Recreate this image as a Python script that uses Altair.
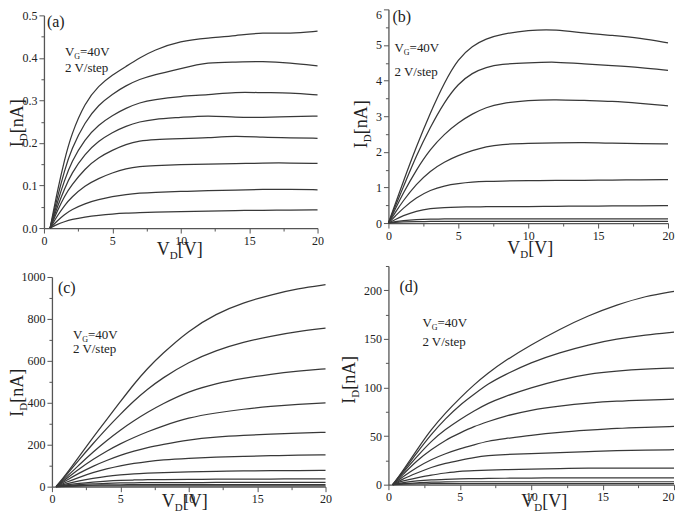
import altair as alt
import pandas as pd

FONT = "Liberation Serif"
LINE = "#383838"
AXC = "#555555"
TXT = "#222222"

# ---------------- data ----------------
# Panel (a): I_D in nA
va = [0.45, 1, 1.5, 2, 3, 4, 5, 6, 7, 8, 10, 12, 14, 16, 18, 20]
ia = [
    [0, 0.09, 0.16, 0.22, 0.295, 0.335, 0.36, 0.38, 0.40, 0.418, 0.44, 0.447, 0.452, 0.46, 0.457, 0.463],
    [0, 0.075, 0.135, 0.185, 0.25, 0.29, 0.315, 0.335, 0.35, 0.36, 0.375, 0.39, 0.39, 0.392, 0.388, 0.381],
    [0, 0.063, 0.112, 0.155, 0.21, 0.243, 0.265, 0.282, 0.295, 0.302, 0.31, 0.313, 0.32, 0.318, 0.318, 0.313],
    [0, 0.052, 0.092, 0.128, 0.175, 0.205, 0.225, 0.24, 0.25, 0.256, 0.26, 0.265, 0.26, 0.26, 0.262, 0.263],
    [0, 0.042, 0.075, 0.10, 0.14, 0.166, 0.183, 0.197, 0.205, 0.208, 0.21, 0.212, 0.217, 0.213, 0.212, 0.211],
    [0, 0.03, 0.053, 0.072, 0.10, 0.117, 0.13, 0.14, 0.145, 0.147, 0.149, 0.15, 0.151, 0.153, 0.153, 0.152],
    [0, 0.018, 0.032, 0.043, 0.058, 0.067, 0.074, 0.079, 0.082, 0.084, 0.086, 0.088, 0.089, 0.091, 0.091, 0.09],
    [0, 0.009, 0.015, 0.02, 0.026, 0.03, 0.033, 0.035, 0.036, 0.037, 0.039, 0.04, 0.041, 0.042, 0.042, 0.043],
]
# Panel (b)
vb = [0, 0.5, 1, 2, 3, 4, 5, 6, 7, 8, 10, 12, 14, 16, 18, 20]
ib = [
    [0, 0.55, 1.1, 2.15, 3.1, 3.95, 4.62, 4.98, 5.18, 5.3, 5.42, 5.44, 5.33, 5.27, 5.2, 5.06],
    [0, 0.48, 0.95, 1.9, 2.7, 3.4, 3.92, 4.22, 4.38, 4.46, 4.5, 4.53, 4.47, 4.42, 4.37, 4.29],
    [0, 0.4, 0.8, 1.5, 2.08, 2.5, 2.82, 3.07, 3.25, 3.36, 3.45, 3.47, 3.44, 3.42, 3.36, 3.29],
    [0, 0.3, 0.6, 1.1, 1.47, 1.72, 1.9, 2.04, 2.15, 2.21, 2.24, 2.25, 2.26, 2.24, 2.23, 2.22],
    [0, 0.2, 0.4, 0.72, 0.93, 1.05, 1.11, 1.15, 1.17, 1.18, 1.19, 1.2, 1.2, 1.21, 1.21, 1.22],
    [0, 0.1, 0.2, 0.34, 0.41, 0.44, 0.45, 0.455, 0.46, 0.46, 0.46, 0.47, 0.475, 0.48, 0.485, 0.49],
    [0, 0.04, 0.07, 0.1, 0.11, 0.115, 0.12, 0.12, 0.12, 0.12, 0.12, 0.12, 0.12, 0.12, 0.12, 0.12],
    [0, 0.02, 0.03, 0.04, 0.045, 0.05, 0.05, 0.05, 0.05, 0.05, 0.05, 0.05, 0.05, 0.05, 0.05, 0.05],
]
# Panel (c)
vc = [0.3, 1, 2, 3, 4, 5, 6, 7, 8, 10, 12, 14, 16, 18, 20]
ic = [
    [0, 55, 145, 235, 320, 405, 490, 565, 630, 745, 825, 878, 915, 945, 963],
    [0, 50, 130, 205, 278, 345, 410, 465, 515, 595, 650, 690, 718, 740, 756],
    [0, 42, 105, 165, 220, 270, 315, 355, 392, 455, 492, 517, 537, 551, 562],
    [0, 35, 85, 130, 170, 205, 235, 262, 287, 330, 352, 370, 383, 393, 400],
    [0, 28, 65, 98, 125, 150, 170, 187, 200, 224, 237, 245, 251, 255, 259],
    [0, 20, 45, 68, 85, 100, 111, 120, 127, 135, 141, 145, 148, 150, 152],
    [0, 13, 28, 40, 50, 56, 61, 64, 67, 71, 73, 75, 76, 77, 78],
    [0, 8, 16, 22, 27, 30, 32, 33, 34, 35, 35.5, 36, 36.5, 37, 37],
    [0, 5, 10, 14, 16, 18, 18.5, 19, 19, 19.5, 20, 20, 20, 20, 20],
    [0, 3, 6, 8, 8.5, 9, 9.5, 9.5, 10, 10, 10, 10, 10, 10, 10],
    [0, 1.5, 3, 3.5, 4, 4, 4, 4, 4, 4, 4, 4, 4, 4, 4],
]
# Panel (d)
vd = [0.3, 1, 2, 3, 4, 5, 6, 7, 8, 10, 12, 14, 16, 18, 20]
idd = [
    [0, 14, 36, 57, 74, 89, 103, 115, 126, 144, 160, 174, 185, 194, 199],
    [0, 13, 33, 52, 68, 82, 93, 104, 112, 126, 136, 144, 150, 154, 157],
    [0, 12, 29, 45, 57, 67, 76, 84, 90, 100, 108, 114, 117, 119, 120],
    [0, 10, 25, 36, 46, 53, 60, 65, 70, 77, 81, 84, 86, 87, 88],
    [0, 8, 18, 26, 32, 37, 41, 45, 47, 51, 54, 56, 58, 59, 60],
    [0, 6, 12, 18, 22, 25, 28, 30, 31, 32, 33, 34, 35, 35.5, 36],
    [0, 4, 7, 10, 12, 14, 14.5, 15, 15.5, 16, 16.5, 17, 17, 17, 17],
    [0, 2, 4, 5, 5.5, 6, 6.2, 6.4, 6.6, 6.8, 7, 7, 7, 7, 7],
    [0, 1, 2, 2.5, 3, 3, 3, 3, 3, 3, 3, 3, 3, 3, 3],
    [0, 0.5, 0.8, 1, 1, 1, 1, 1, 1, 1, 1, 1, 1, 1, 1],
]

# axis tick values
x_ticks = [0, 2.5, 5, 7.5, 10, 12.5, 15, 17.5, 20]
ya_ticks = [0, 0.05, 0.1, 0.15, 0.2, 0.25, 0.3, 0.35, 0.4, 0.45, 0.5]
yb_ticks = [0, 0.5, 1, 1.5, 2, 2.5, 3, 3.5, 4, 4.5, 5, 5.5, 6]
yc_ticks = [0, 100, 200, 300, 400, 500, 600, 700, 800, 900, 1000]
yd_ticks = [0, 25, 50, 75, 100, 125, 150, 175, 200, 225]

CW, CH = 333, 247  # cell size
TS, SS = 18, 11    # axis-title font size, subscript size

WID = {'V': .722, 'D': .722, 'I': .333, 'G': .722, '[': .333, ']': .333, 'n': .5, 'A': .722,
       '=': .564, '4': .5, '0': .5, '2': .5, ' ': .25, '/': .278, 's': .389, 't': .278,
       'e': .444, 'p': .5}


def tw(s, size):
    return sum(WID.get(c, .5) for c in s) * size


def txt(t, x, y, size, angle=0):
    kw = dict(font=FONT, fontSize=size, color=TXT, align="left", baseline="alphabetic")
    if angle:
        kw["angle"] = angle
    return alt.Chart(pd.DataFrame({"t": [t]})).mark_text(**kw).encode(
        x=alt.value(x), y=alt.value(y), text="t:N")


def hrow(x0, y, parts):
    out, x = [], x0
    for t, size, dy in parts:
        out.append(txt(t, x, y + dy, size))
        x += tw(t, size)
    return out


def vrow(bx, ybottom, parts):
    out, y = [], ybottom
    for t, size, dx in parts:
        out.append(txt(t, bx + dx, y, size, angle=270))
        y -= tw(t, size)
    return out


def xtitle(cx, base):
    parts = [("V", TS, 0), ("D", SS, 4), ("[V]", TS, 0)]
    tot = sum(tw(t, s) for t, s, _ in parts)
    return hrow(cx - tot / 2, base, parts)


def ytitle(bx, cy):
    parts = [("I", TS, 0), ("D", SS, 4), ("[nA]", TS, 0)]
    tot = sum(tw(t, s) for t, s, _ in parts)
    return vrow(bx, cy + tot / 2, parts)


def notes(lx, lb, letter, nx, nb1, nb2):
    out = [txt(letter, lx, lb, 16)]
    out += hrow(nx, nb1, [("V", 13, 0), ("G", 8, 3), ("=40V", 13, 0)])
    out.append(txt("2 V/step", nx, nb2, 13))
    return out


def axis(orient, values, test, offset, fmt, align=None, baseline=None):
    kw = dict(orient=orient, values=values, title=None, grid=False, offset=offset,
              labelExpr=f"({test}) ? format(datum.value, '{fmt}') : ''",
              tickSize={"condition": {"test": test, "value": 5}, "value": 3},
              tickColor=AXC, tickWidth=1, domainColor=AXC, domainWidth=1.3,
              labelFont=FONT, labelFontSize=12, labelColor=TXT, labelPadding=2,
              labelFlush=False, labelOverlap=False)
    if align:
        kw["labelAlign"] = align
    if baseline:
        kw["labelBaseline"] = baseline
    return alt.Axis(**kw)


def panel(vs, curves, ymax, xr, yr, xaxis, yaxis, extras):
    rows = []
    for k, cur in enumerate(curves):
        for v, i in zip(vs, cur):
            rows.append({"V": v, "I": i, "c": k})
    df = pd.DataFrame(rows)
    lines = alt.Chart(df).mark_line(color=LINE, strokeWidth=1.25, interpolate="basis").encode(
        x=alt.X("V:Q", scale=alt.Scale(domain=[0, 20], range=xr, nice=False, zero=False), axis=xaxis),
        y=alt.Y("I:Q", scale=alt.Scale(domain=[0, ymax], range=yr, nice=False, zero=False), axis=yaxis),
        detail="c:N",
    )
    return alt.layer(lines, *extras).properties(width=CW, height=CH)


XT = "datum.value % 5 === 0"

pa = panel(va, ia, 0.5, [36, 310], [220, 7],
           axis("bottom", x_ticks, XT, -(CH - 220), "d"),
           axis("left", ya_ticks, "abs(datum.value*10 - round(datum.value*10)) < 0.000001", -36, ".1f"),
           notes(39, 19, "(a)", 57, 47.5, 63.5) + xtitle(172, 247) + ytitle(14.6, 115))

pb = panel(vb, ib, 6, [48, 328], [215, 1],
           axis("bottom", x_ticks, XT, -(CH - 215), "d"),
           axis("left", yb_ticks, "datum.value % 1 === 0", -48, "d",
                baseline={"condition": {"test": "datum.value === 6", "value": "top"}, "value": "middle"}),
           notes(52, 14, "(b)", 54, 43.5, 67.5) + xtitle(190, 246) + ytitle(27, 116))

pc = panel(vc, ic, 1000, [44, 318], [232, 22],
           axis("bottom", x_ticks, XT, -(CH - 232), "d"),
           axis("left", yc_ticks, "datum.value % 200 === 0", -44, "d"),
           notes(50, 38, "(c)", 65, 84.5, 98.5) + xtitle(177, 252) + ytitle(15, 138))

pd_ = panel(vd, idd, 225, [48, 334], [230, 11],
            axis("bottom", x_ticks, XT, -(CH - 230), "d",
                 align={"condition": {"test": "datum.value === 20", "value": "right"}, "value": "center"}),
            axis("left", yd_ticks, "datum.value % 50 === 0", -48, "d"),
            notes(59, 37, "(d)", 82, 72.5, 91.5) + xtitle(204, 252) + ytitle(15, 125))

chart = alt.concat(pa, pb, pc, pd_, columns=2, spacing=0, bounds="flush").properties(
    padding={"left": 0, "top": 0, "right": 0, "bottom": 0}, background="white"
).configure_view(stroke=None)

chart.save("out.html", embed_options={"renderer": "svg", "actions": False})
